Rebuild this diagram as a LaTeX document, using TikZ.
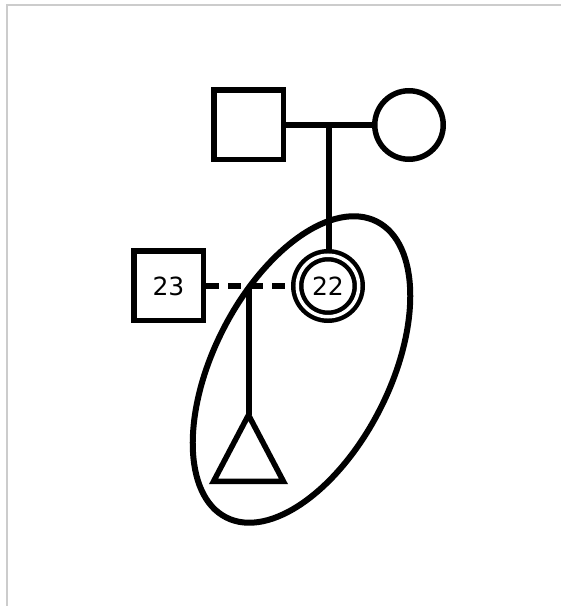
\documentclass[tikz,border=0pt]{standalone}
\usepackage{fontspec}
\setsansfont{DejaVu Sans}
\usetikzlibrary{positioning,calc}

\begin{document}
\begin{tikzpicture}[x=1pt,y=1pt,
    person/.style={draw, line width=5.5pt, inner sep=0pt, font=\sffamily\fontsize{25}{30}\selectfont},
    male/.style={person, rectangle, minimum size=69.5pt},
    female/.style={person, circle, minimum size=68.5pt},
    proband/.style={person, circle, double, line width=4.5pt, double distance=3.5pt, minimum size=61.5pt, outer sep=6.25pt},
    tie/.style={line width=6pt},
    frame/.style={draw=gray!40, line width=2pt}
]
    \useasboundingbox (0,0) rectangle (561,606);
    \draw [frame] (561,601) -- (7,601) -- (7,0);

    % parents
    \node (father) [male] at (248.5,481) {};
    \node (mother) [female, right=86pt of father] {};
    % index person and partner
    \node (p22) [proband] at (328,320) {22};
    \node (p23) [male] at (168.5,320) {23};

    \coordinate (marr) at ($(father.east)!0.5!(mother.west)$);
    \coordinate (union) at ($(p23.east)!0.5!(p22.west)$);
    \coordinate (apex) at (union |- 0,191);

    \draw [tie] (father) -- (mother);
    \draw [tie] (marr) -- (marr |- p22.north);
    \draw [tie, dash pattern=on 13pt off 9pt] (p23) -- (p22);
    \draw [tie] (union) -- (apex);

    % pregnancy
    \draw [line width=5.5pt, line join=miter] (apex) -- ++(35,-66.5) -- ++(-70,0) -- cycle;

    % grouping
    \draw [tie, rotate around={63:(301.5,236.5)}] (301.5,236.5) ellipse [x radius=166, y radius=88];
\end{tikzpicture}
\end{document}
